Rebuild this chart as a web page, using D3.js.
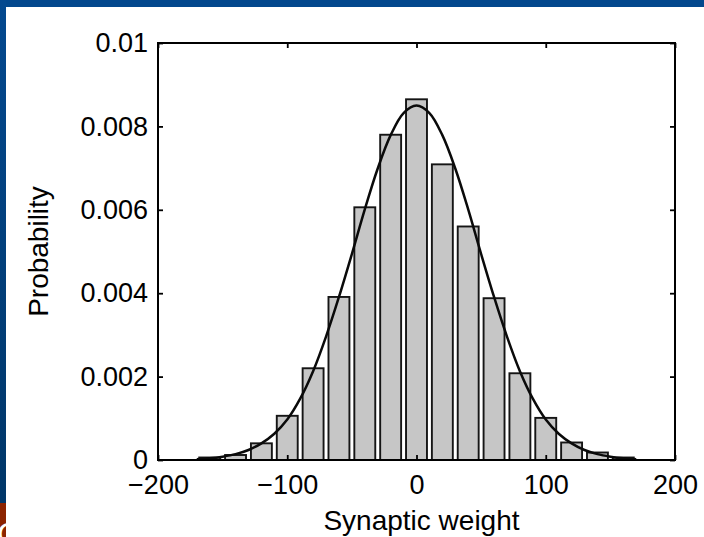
<!DOCTYPE html>
<html>
<head>
<meta charset="utf-8">
<script src="https://cdn.jsdelivr.net/npm/d3@7/dist/d3.min.js"></script>
<style>
  html, body { margin: 0; padding: 0; background: #ffffff; }
  svg { display: block; }
  text { font-family: "Liberation Sans", Arial, Helvetica, sans-serif; fill: #000; }
</style>
</head>
<body>
<script>
// ---- data ----
const binCenters = [-160, -140, -120, -100, -80, -60, -40, -20, 0, 20, 40, 60, 80, 100, 120, 140, 160];
const binProbabilities = [0.00006, 0.00012, 0.00040, 0.00106, 0.00220, 0.00391, 0.00606, 0.00780, 0.00865,
                          0.00709, 0.00560, 0.00388, 0.00208, 0.00101, 0.00042, 0.00018, 0.00006];
const binWidth = 20;

const curveX = [-170, -160, -150, -140, -130, -120, -110, -100, -90, -80, -70, -60, -50, -40, -30, -20, -10,
                0, 10, 20, 30, 40, 50, 60, 70, 80, 90, 100, 110, 120, 130, 140, 150, 160, 170];
const curveY = [0.00002, 0.00004, 0.00008, 0.00014, 0.00024, 0.00040, 0.00063, 0.00097, 0.00147, 0.00213,
                0.00296, 0.00391, 0.00494, 0.00601, 0.00699, 0.00779, 0.00832, 0.00850,
                0.00832, 0.00779, 0.00699, 0.00601, 0.00494, 0.00391, 0.00296, 0.00213, 0.00147,
                0.00097, 0.00063, 0.00040, 0.00024, 0.00014, 0.00008, 0.00004, 0.00002];

const xTicks = [-200, -100, 0, 100, 200];
const yTicks = [0, 0.002, 0.004, 0.006, 0.008, 0.01];
const xLabel = "Synaptic weight";
const yLabel = "Probability";

// ---- layout ----
const W = 704, H = 537;
const M = { left: 158, right: 29, top: 43, bottom: 77 };
const pw = W - M.left - M.right, ph = H - M.top - M.bottom;

const svg = d3.select("body").append("svg").attr("width", W).attr("height", H);

// background decorations (slide frame)
const defs = svg.append("defs");
const grad = defs.append("linearGradient").attr("id", "sideGrad")
  .attr("x1", 0).attr("y1", 0).attr("x2", 0).attr("y2", 1);
grad.append("stop").attr("offset", "0%").attr("stop-color", "#04498f");
grad.append("stop").attr("offset", "100%").attr("stop-color", "#003668");
defs.append("clipPath").attr("id", "redClip").append("rect")
  .attr("x", 0).attr("y", 503).attr("width", 6).attr("height", 34);

svg.append("rect").attr("x", 0).attr("y", 0).attr("width", W).attr("height", H).attr("fill", "#ffffff");
svg.append("rect").attr("x", 0).attr("y", 0).attr("width", W).attr("height", 7).attr("fill", "#03488d");
svg.append("rect").attr("x", 0).attr("y", 0).attr("width", 6).attr("height", 503).attr("fill", "url(#sideGrad)");
svg.append("rect").attr("x", 0).attr("y", 503).attr("width", 6).attr("height", 34).attr("fill", "#8c2400");
svg.append("text").attr("x", -3).attr("y", 545).attr("clip-path", "url(#redClip)")
  .style("font-size", "32px").style("fill", "#ffffff").text("C");

// ---- scales ----
const x = d3.scaleLinear().domain([-200, 200]).range([M.left, M.left + pw]);
const y = d3.scaleLinear().domain([0, 0.01]).range([M.top + ph, M.top]);

const g = svg.append("g");

// bars
const bars = binCenters.map((c, i) => ({ c, p: binProbabilities[i] }));
const half = binWidth * 0.81 / 2;
g.selectAll("rect.bar").data(bars).enter().append("rect")
  .attr("class", "bar")
  .attr("x", d => x(d.c - half))
  .attr("width", d => x(d.c + half) - x(d.c - half))
  .attr("y", d => y(d.p))
  .attr("height", d => y(0) - y(d.p))
  .attr("fill", "#c6c6c6")
  .attr("stroke", "#151515")
  .attr("stroke-width", 1.9);

// fitted curve
const pts = curveX.map((v, i) => [v, curveY[i]]);
g.append("path").datum(pts)
  .attr("d", d3.line().x(d => x(d[0])).y(d => y(d[1])).curve(d3.curveCatmullRom))
  .attr("fill", "none").attr("stroke", "#0a0a0a").attr("stroke-width", 2.5);

// ---- axes ----
const fmtY = d => d === 0 ? "0" : String(+d.toFixed(3));
const tickFont = "27px";

const xAxis = svg.append("g").attr("transform", `translate(0,${M.top + ph})`)
  .call(d3.axisBottom(x).tickValues(xTicks).tickSizeInner(-5).tickSizeOuter(0).tickPadding(15));
const yAxis = svg.append("g").attr("transform", `translate(${M.left},0)`)
  .call(d3.axisLeft(y).tickValues(yTicks).tickFormat(fmtY).tickSizeInner(-5).tickSizeOuter(0).tickPadding(10));
const xTop = svg.append("g").attr("transform", `translate(0,${M.top})`)
  .call(d3.axisTop(x).tickValues(xTicks).tickFormat("").tickSizeInner(-5).tickSizeOuter(0));
const yRight = svg.append("g").attr("transform", `translate(${M.left + pw},0)`)
  .call(d3.axisRight(y).tickValues(yTicks).tickFormat("").tickSizeInner(-5).tickSizeOuter(0));

[xAxis, yAxis, xTop, yRight].forEach(a => {
  a.select(".domain").remove();
  a.selectAll(".tick line").attr("stroke", "#000").attr("stroke-width", 1.8);
  a.selectAll(".tick text").style("font-size", tickFont)
    .style("font-family", "'Liberation Sans', Arial, Helvetica, sans-serif").attr("fill", "#000");
});

// frame
svg.append("rect").attr("x", M.left).attr("y", M.top).attr("width", pw).attr("height", ph)
  .attr("fill", "none").attr("stroke", "#000").attr("stroke-width", 2);

// labels
svg.append("text").attr("x", M.left + pw / 2 + 5).attr("y", 530)
  .attr("text-anchor", "middle").style("font-size", "28px").text(xLabel);
svg.append("text").attr("transform", `translate(48,${M.top + ph / 2}) rotate(-90)`)
  .attr("text-anchor", "middle").style("font-size", "28px").text(yLabel);
</script>
</body>
</html>
